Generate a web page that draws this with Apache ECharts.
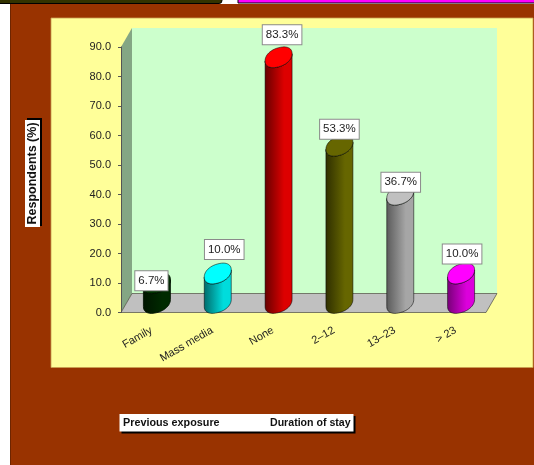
<!DOCTYPE html>
<html><head><meta charset="utf-8">
<style>html,body{margin:0;padding:0;background:#fff}#c{width:534px;height:465px}</style>
<script src="https://cdn.jsdelivr.net/npm/echarts@6/dist/echarts.min.js"></script>
</head><body><div id="c"></div>
<script>
var categories = ['Family', 'Mass media', 'None', '2\u201312', '13\u201323', '> 23'];
var values = [6.7, 10.0, 83.3, 53.3, 36.7, 10.0];
var valueLabels = ['6.7%', '10.0%', '83.3%', '53.3%', '36.7%', '10.0%'];
var yTicks = {min: 0, max: 90, interval: 10};
var topColors = ['#003300', '#00ffff', '#ff0000', '#666600', '#c0c0c0', '#ff00ff'];
var darkColors = ['#001500', '#006a6a', '#660000', '#2e2e00', '#5a5a5a', '#770077'];
var midColors = ['#002a00', '#00dcdc', '#dd0000', '#666600', '#a6a6a6', '#dc00dc'];
var labelShift = [[0, -12], [12, -33.5], [9, -32], [5.5, -26], [6, -22], [6.5, -29]];
var labelFont = 'Liberation Sans, Arial, sans-serif';

var G = {l: 121, t: 47, w: 365, h: 265.5, dx: 11, dy: 19};
var R = 13.5, SLANT = 3.6, B = 9.6, OX = 5.5, OY = 9.5, ROUND = 0.92;

function pow(v) { return (v < 0 ? -1 : 1) * Math.pow(Math.abs(v), ROUND); }
function ell(cx, cy, a0, a1, n) {
  var p = [];
  for (var i = 0; i <= n; i++) {
    var t = a0 + (a1 - a0) * i / n;
    var c = pow(Math.cos(t)), s = pow(Math.sin(t));
    p.push([cx + R * c, cy - SLANT * c + B * s]);
  }
  return p;
}

function renderBar(params, api) {
  var i = api.value(0);
  var top = api.coord([i, api.value(1)]);
  var base = api.coord([i, 0]);
  var cx = top[0] + OX, ty = top[1] - OY, by = base[1] - OY;
  var body = ell(cx, by, 0, Math.PI, 24).concat(ell(cx, ty, Math.PI, 0, 24));
  var shift = labelShift[i];
  var stroke = i === 0 ? '#001000' : 'rgba(0,0,0,0.65)';
  return {
    type: 'group',
    children: [
      {type: 'polygon', shape: {points: body},
        style: {
          fill: {type: 'linear', x: 0, y: 0, x2: 1, y2: 0, colorStops: [
            {offset: 0, color: darkColors[i]},
            {offset: 0.7, color: midColors[i]},
            {offset: 1, color: midColors[i]}]},
          stroke: stroke, lineWidth: 0.8}},
      {type: 'polygon', shape: {points: ell(cx, ty, 0, Math.PI * 2, 48)},
        style: {fill: topColors[i], stroke: stroke, lineWidth: 0.8}},
      {type: 'text', z2: 20,
        style: {
          x: top[0] + shift[0], y: top[1] + shift[1],
          text: valueLabels[i], align: 'center', verticalAlign: 'middle',
          font: '11.5px ' + labelFont, fill: '#222',
          backgroundColor: '#fff', borderColor: '#8a8a8a', borderWidth: 1,
          padding: [4, 3, 3, 3]}}
    ]
  };
}

var wallPts = [
  [G.l, G.t], [G.l + G.dx, G.t - G.dy], [G.l + G.dx, G.t + G.h - G.dy], [G.l, G.t + G.h]];
var floorPts = [
  [G.l, G.t + G.h], [G.l + G.w, G.t + G.h],
  [G.l + G.w + G.dx, G.t + G.h - G.dy], [G.l + G.dx, G.t + G.h - G.dy]];

var chart = echarts.init(document.getElementById('c'), null, {renderer: 'canvas'});
chart.setOption({
  animation: false,
  backgroundColor: '#ffffff',
  grid: {left: G.l, top: G.t, width: G.w, height: G.h, containLabel: false},
  graphic: [
    {type: 'rect', z: -10, shape: {x: -4, y: -4, width: 226, height: 7.5, r: 3}, style: {fill: '#333300', stroke: '#000', lineWidth: 1}},
    {type: 'rect', z: -10, shape: {x: 238, y: -1, width: 298, height: 4}, style: {fill: '#ff00ff', stroke: '#000', lineWidth: 1}},
    {type: 'rect', z: -9, shape: {x: 10, y: 4, width: 524, height: 461}, style: {fill: '#993300'}},
    {type: 'rect', z: -9, shape: {x: 10, y: 4, width: 1, height: 461}, style: {fill: '#6e2500'}},
    {type: 'rect', z: -8, shape: {x: 51, y: 18, width: 482, height: 349.5}, style: {fill: '#ffff99', stroke: '#c9a050', lineWidth: 0.8}},
    {type: 'rect', z: -7, shape: {x: G.l + G.dx, y: G.t - G.dy, width: G.w, height: G.h}, style: {fill: '#ccffcc'}},
    {type: 'polygon', z: -7, shape: {points: wallPts}, style: {fill: '#84a684'}},
    {type: 'polygon', z: -7, shape: {points: floorPts}, style: {fill: '#c0c0c0', stroke: '#333', lineWidth: 0.6}},
    {type: 'rect', z: 5, shape: {x: 27, y: 118, width: 15, height: 108}, style: {fill: '#000'}},
    {type: 'rect', z: 6, shape: {x: 25, y: 120, width: 15, height: 107}, style: {fill: '#fff'}},
    {type: 'text', z: 7, x: 32.5, y: 173.5, rotation: Math.PI / 2,
      style: {text: 'Respondents (%)', font: 'bold 12.5px ' + labelFont, fill: '#111', align: 'center', verticalAlign: 'middle'},
      originX: 0, originY: 0},
    {type: 'rect', z: 5, shape: {x: 121.5, y: 416, width: 234, height: 17.5}, style: {fill: '#000'}},
    {type: 'rect', z: 6, shape: {x: 119.5, y: 414, width: 234, height: 17.5}, style: {fill: '#fff'}},
    {type: 'text', z: 7, x: 123, y: 423.5, style: {text: 'Previous exposure', font: 'bold 10.8px ' + labelFont, fill: '#111', verticalAlign: 'middle'}},
    {type: 'text', z: 7, x: 270, y: 423.5, style: {text: 'Duration of stay', font: 'bold 10.6px ' + labelFont, fill: '#111', verticalAlign: 'middle'}}
  ],
  xAxis: {
    type: 'category', data: categories,
    axisLine: {show: false},
    axisTick: {show: false},
    axisLabel: {interval: 0, rotate: 30, margin: 17, color: '#222', fontFamily: labelFont, fontSize: 11},
    splitLine: {show: false}
  },
  yAxis: {
    type: 'value', min: yTicks.min, max: yTicks.max, interval: yTicks.interval,
    axisLine: {show: true, lineStyle: {color: '#555', width: 1}},
    axisTick: {show: true, length: 3, lineStyle: {color: '#555'}},
    axisLabel: {margin: 10, color: '#222', fontFamily: labelFont, fontSize: 11,
      formatter: function (v) { return v.toFixed(1); }},
    splitLine: {show: false}
  },
  series: [{
    type: 'custom', coordinateSystem: 'cartesian2d',
    renderItem: renderBar, clip: false,
    encode: {x: 0, y: 1},
    data: values.map(function (v, i) { return [i, v]; })
  }]
});
</script></body></html>
